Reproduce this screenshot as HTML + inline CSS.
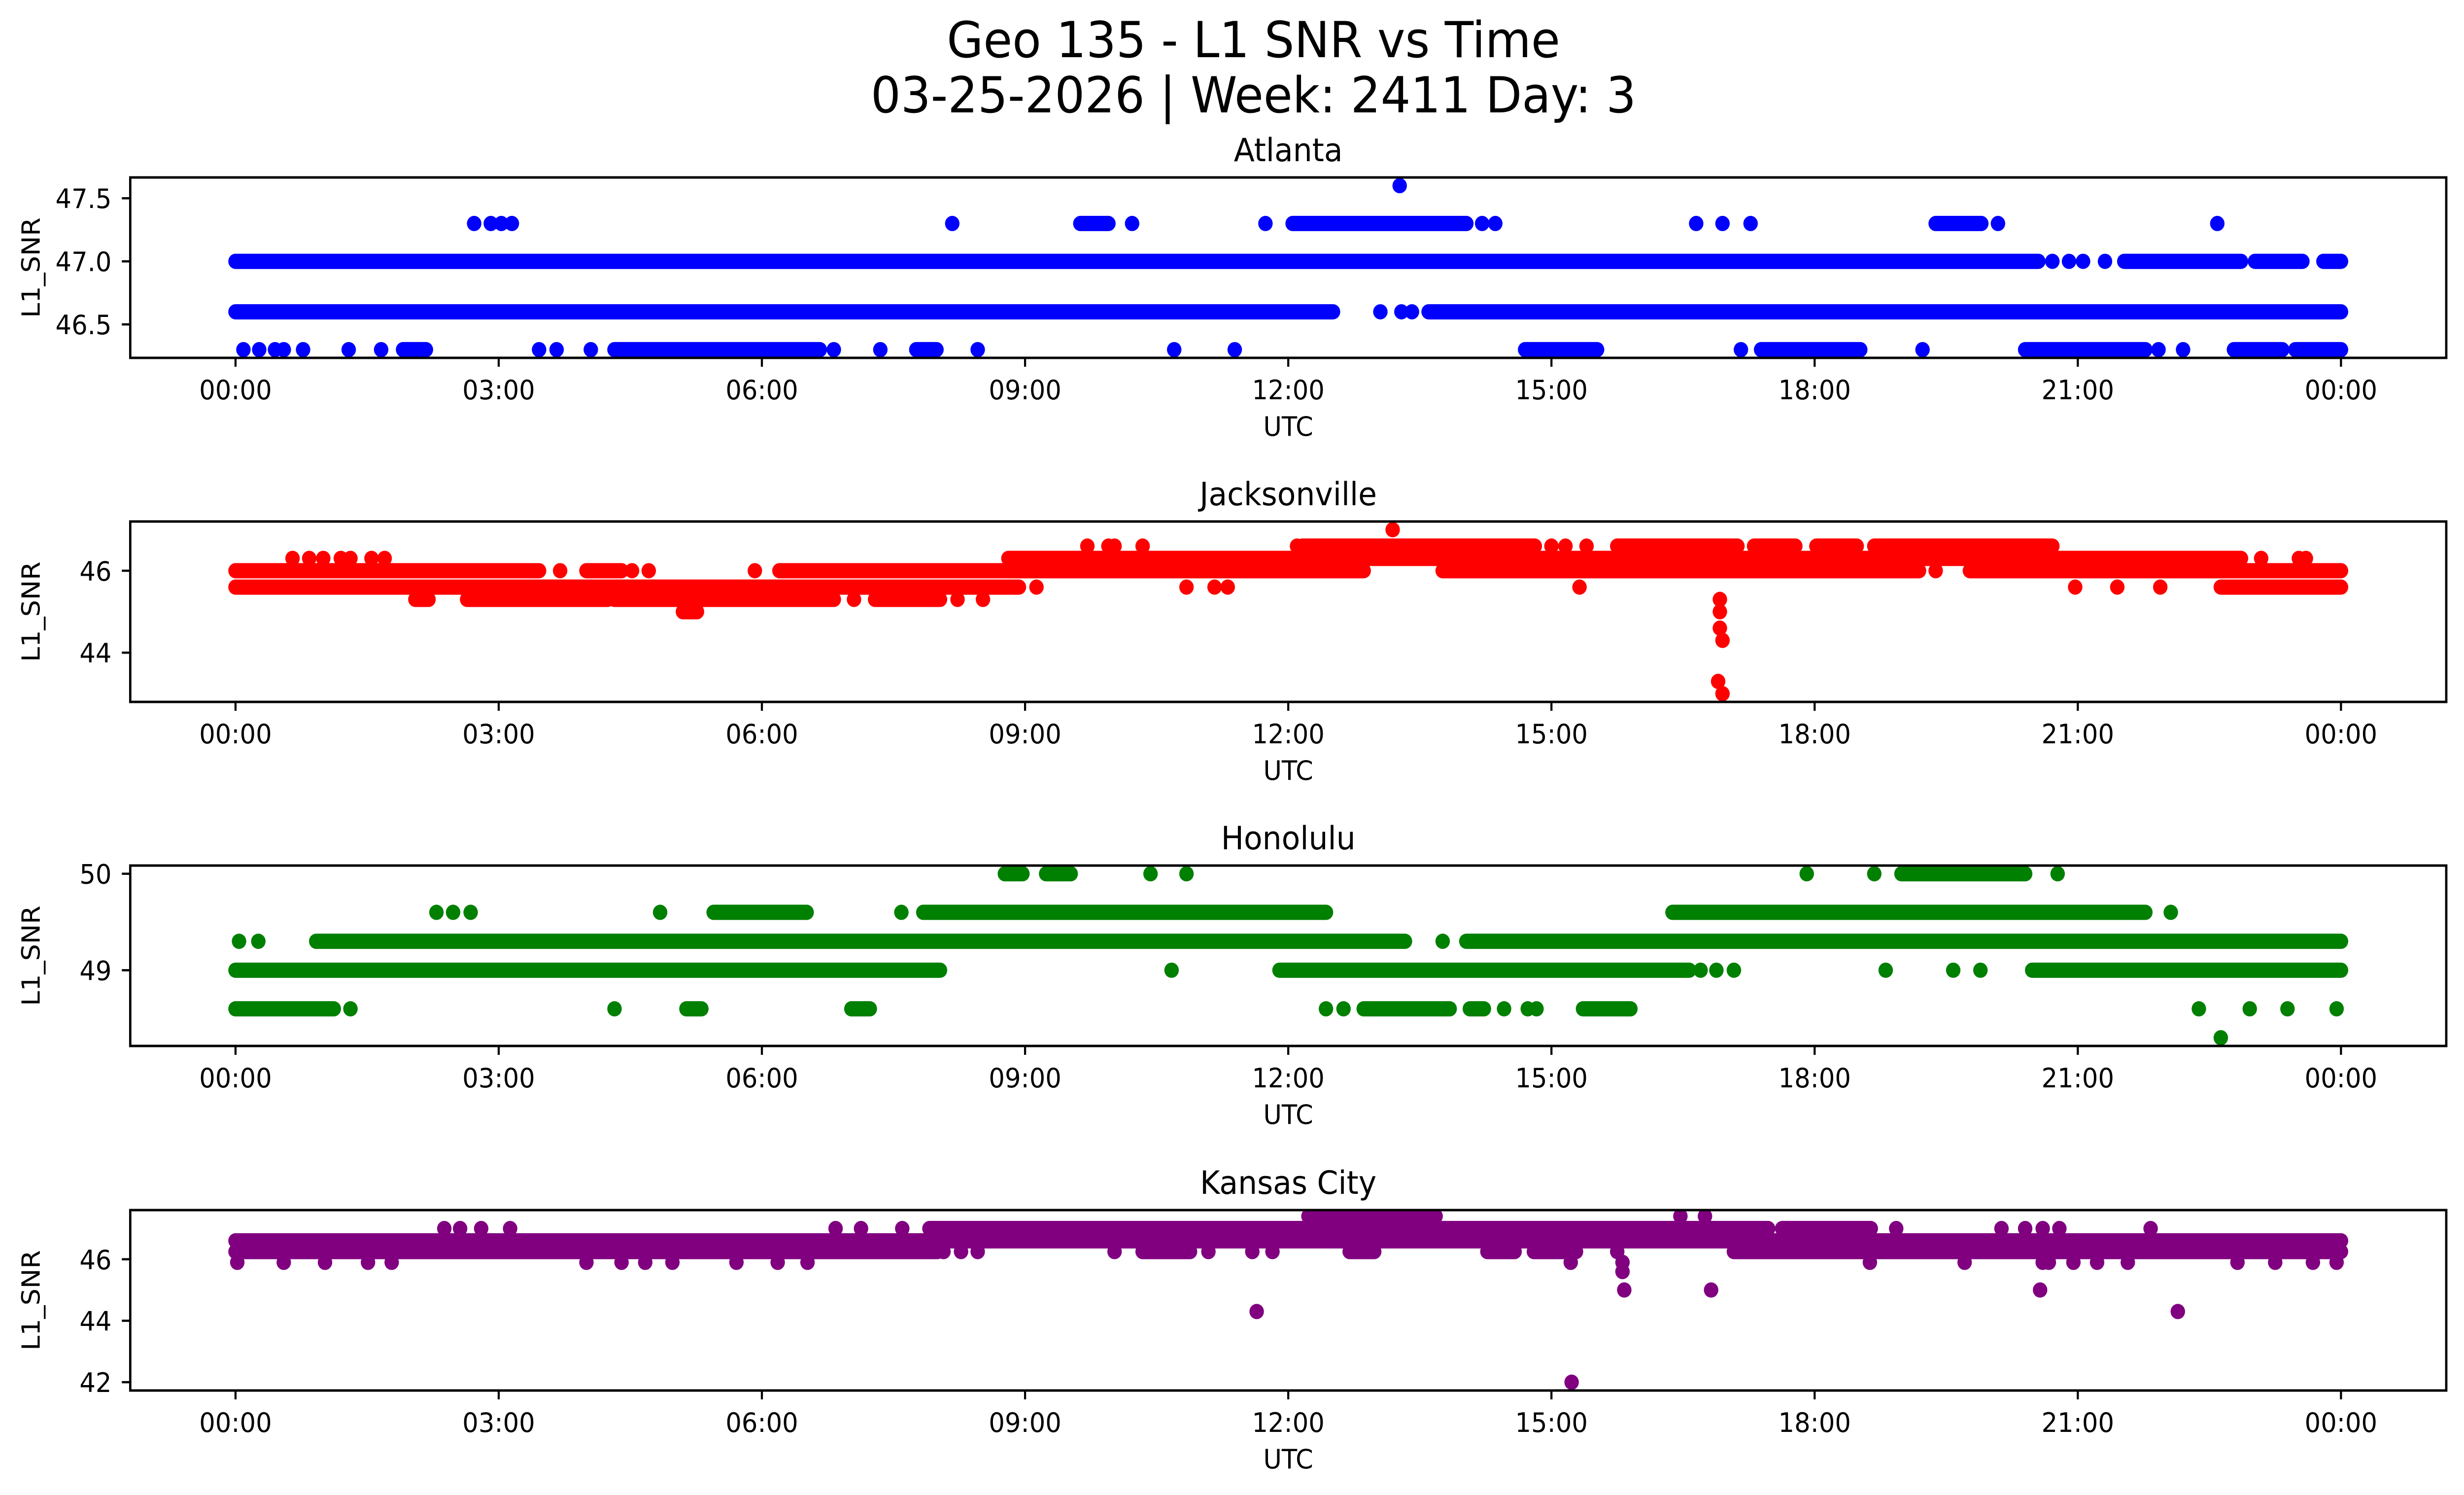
<!DOCTYPE html>
<html><head><meta charset="utf-8"><title>Geo 135 - L1 SNR vs Time</title>
<style>html,body{margin:0;padding:0;background:#fff;overflow:hidden;width:100%;height:100%;}svg{display:block;width:100vw;height:100vh;font-family:"DejaVu Sans","Liberation Sans",sans-serif;}</style>
</head><body>
<svg id="fig" viewBox="0 0 5278 3033" preserveAspectRatio="none" xmlns="http://www.w3.org/2000/svg">
<rect x="0" y="0" width="5278" height="3033" fill="#fff"/>
<text x="2685" y="116" font-size="101" text-anchor="middle">Geo 135 - L1 SNR vs Time</text>
<text x="2685" y="228" font-size="101" text-anchor="middle">03-25-2026 | Week: 2411 Day: 3</text>
</svg>
<script>
// shared x axis data
const xTickHours = [0, 3, 6, 9, 12, 15, 18, 21, 24];
const xTickLabels = ["00:00","03:00","06:00","09:00","12:00","15:00","18:00","21:00","00:00"];
const xDomain = [-1.2, 25.2];

// Atlanta
const atlTicks = [46.5, 47.0, 47.5];
const atlTickLabels = ["46.5","47.0","47.5"];
const atlYDomain = [46.235, 47.665];
const atlRuns = [[47.0,0,20.55],[47.0,21.53,22.86],[47.0,23.02,23.56],[47.0,23.8,24],[46.6,0,12.51],[46.6,13.6,24],[47.3,12.05,14.03],[47.3,9.63,9.95],[47.3,19.38,19.9],[46.3,4.32,6.66],[46.3,7.76,7.99],[46.3,1.91,2.17],[46.3,14.7,15.52],[46.3,17.39,18.52],[46.3,20.4,21.77],[46.3,22.78,23.33],[46.3,23.48,24]];
const atlPoints = [[2.72,47.3],[2.91,47.3],[3.03,47.3],[3.15,47.3],[8.17,47.3],[10.22,47.3],[11.74,47.3],[14.21,47.3],[14.36,47.3],[16.65,47.3],[16.95,47.3],[17.27,47.3],[20.09,47.3],[22.59,47.3],[13.27,47.6],[20.71,47.0],[20.9,47.0],[21.06,47.0],[21.31,47.0],[13.05,46.6],[13.29,46.6],[13.41,46.6],[0.09,46.3],[0.27,46.3],[0.45,46.3],[0.55,46.3],[0.77,46.3],[1.29,46.3],[1.66,46.3],[3.46,46.3],[3.66,46.3],[4.05,46.3],[6.82,46.3],[7.35,46.3],[8.46,46.3],[10.70,46.3],[11.39,46.3],[17.16,46.3],[19.23,46.3],[21.92,46.3],[22.2,46.3]];

// Jacksonville
const jaxTicks = [44, 46];
const jaxTickLabels = ["44","46"];
const jaxYDomain = [42.8, 47.2];
const jaxRuns = [[46.0,0,3.46],[46.0,4.0,4.4],[46.0,6.2,12.86],[46.0,13.76,19.19],[46.0,19.77,24],[45.6,0,8.93],[45.6,22.63,24],[45.3,2.05,2.2],[45.3,2.64,4.24],[45.3,4.32,6.82],[45.3,7.29,8.03],[46.3,8.81,22.86],[46.6,12.16,14.81],[46.6,15.75,17.12],[46.6,17.31,17.78],[46.6,18.02,18.48],[46.6,18.68,20.71],[45.0,5.1,5.26]];
const jaxPoints = [[0.65,46.3],[0.84,46.3],[1.0,46.3],[1.2,46.3],[1.31,46.3],[1.55,46.3],[1.7,46.3],[23.09,46.3],[23.52,46.3],[23.6,46.3],[9.71,46.6],[9.95,46.6],[10.02,46.6],[10.34,46.6],[12.1,46.6],[15.0,46.6],[15.16,46.6],[15.4,46.6],[3.7,46.0],[4.52,46.0],[4.71,46.0],[5.92,46.0],[19.38,46.0],[9.13,45.6],[10.84,45.6],[11.16,45.6],[11.31,45.6],[15.32,45.6],[20.97,45.6],[21.45,45.6],[21.94,45.6],[7.05,45.3],[8.23,45.3],[8.52,45.3],[16.92,45.3],[16.92,45.0],[16.92,44.6],[16.95,44.3],[16.9,43.3],[16.95,43.0],[13.19,47.0]];

// Honolulu
const honTicks = [49, 50];
const honTickLabels = ["49","50"];
const honYDomain = [48.215, 50.085];
const honRuns = [[49.6,5.45,6.51],[49.6,7.84,12.43],[49.6,16.38,21.77],[49.3,0.92,13.33],[49.3,14.03,24],[49.0,0,8.03],[49.0,11.9,16.57],[49.0,20.48,24],[48.6,0,1.12],[48.6,12.86,13.84],[48.6,14.07,14.23],[48.6,15.36,15.9],[48.6,5.14,5.31],[48.6,7.02,7.23],[50.0,8.77,8.97],[50.0,9.24,9.52],[50.0,18.99,20.4]];
const honPoints = [[10.43,50.0],[10.84,50.0],[17.91,50.0],[18.68,50.0],[20.77,50.0],[2.29,49.6],[2.48,49.6],[2.68,49.6],[4.84,49.6],[7.59,49.6],[22.06,49.6],[0.04,49.3],[0.26,49.3],[13.76,49.3],[10.67,49.0],[16.7,49.0],[16.88,49.0],[17.08,49.0],[18.81,49.0],[19.58,49.0],[19.89,49.0],[1.31,48.6],[4.32,48.6],[12.43,48.6],[12.63,48.6],[14.46,48.6],[14.73,48.6],[14.83,48.6],[22.38,48.6],[22.96,48.6],[23.39,48.6],[23.95,48.6],[22.63,48.3]];

// Kansas City
const kcTicks = [42, 44, 46];
const kcTickLabels = ["42","44","46"];
const kcYDomain = [41.73, 47.6];
const kcRuns = [[46.6,0,24],[46.25,0,8.0],[46.25,17.08,24],[47.0,7.91,17.47],[47.0,17.63,18.64],[47.4,12.23,13.68],[46.25,14.8,15.28],[46.25,14.27,14.58],[46.25,12.7,12.98],[46.25,10.34,10.88]];
const kcPoints = [[16.47,47.4],[16.75,47.4],[2.38,47.0],[2.56,47.0],[2.8,47.0],[3.13,47.0],[6.84,47.0],[7.13,47.0],[7.6,47.0],[18.93,47.0],[20.13,47.0],[20.4,47.0],[20.6,47.0],[20.79,47.0],[21.83,47.0],[8.07,46.25],[8.27,46.25],[8.46,46.25],[10.02,46.25],[11.09,46.25],[11.59,46.25],[11.82,46.25],[15.75,46.25],[0.02,45.9],[0.55,45.9],[1.02,45.9],[1.51,45.9],[1.78,45.9],[4.0,45.9],[4.4,45.9],[4.67,45.9],[4.98,45.9],[5.71,45.9],[6.18,45.9],[6.52,45.9],[15.22,45.9],[15.81,45.9],[18.63,45.9],[19.71,45.9],[20.6,45.9],[20.67,45.9],[20.95,45.9],[21.22,45.9],[21.57,45.9],[22.82,45.9],[23.25,45.9],[23.68,45.9],[23.95,45.9],[15.81,45.6],[15.83,45.0],[16.82,45.0],[20.57,45.0],[11.64,44.3],[22.14,44.3],[15.23,42.0]];

const NS = "http://www.w3.org/2000/svg";
const svg = document.getElementById("fig");
const AX_L = 279, AX_R = 5240, AX_H = 366, R = 15.5;
function mk(tag, attrs, parent){ const e = document.createElementNS(NS, tag); for (const k in attrs) e.setAttribute(k, attrs[k]); (parent||svg).appendChild(e); return e; }
function xScale(h){ return AX_L + (h - xDomain[0]) / (xDomain[1] - xDomain[0]) * (AX_R - AX_L); }

const panels = [
  {key:"atlanta", title:"Atlanta", top:360, color:"#0000ff", ticks:atlTicks, labels:atlTickLabels, dom:atlYDomain, runs:atlRuns, pts:atlPoints},
  {key:"jacksonville", title:"Jacksonville", top:1058, color:"#ff0000", ticks:jaxTicks, labels:jaxTickLabels, dom:jaxYDomain, runs:jaxRuns, pts:jaxPoints},
  {key:"honolulu", title:"Honolulu", top:1756, color:"#008000", ticks:honTicks, labels:honTickLabels, dom:honYDomain, runs:honRuns, pts:honPoints},
  {key:"kansas-city", title:"Kansas City", top:2455, color:"#800080", ticks:kcTicks, labels:kcTickLabels, dom:kcYDomain, runs:kcRuns, pts:kcPoints}
];

panels.forEach(p => {
  const bottom = p.top + AX_H;
  const yScale = v => bottom - (v - p.dom[0]) / (p.dom[1] - p.dom[0]) * AX_H;
  const g = mk("g", {});
  
  
  const clipId = "clip-" + p.key;
  const cp = mk("clipPath", {id: clipId}, g);
  mk("rect", {x: AX_L, y: p.top, width: AX_R - AX_L, height: AX_H}, cp);
  const marks = mk("g", {"clip-path": "url(#" + clipId + ")"}, g);
  
  
  p.runs.forEach(r => {
    const ln = mk("line", {x1: xScale(r[1]), x2: xScale(r[2]), y1: yScale(r[0]), y2: yScale(r[0]), stroke: p.color, "stroke-width": 2*R, "stroke-linecap": "round"}, marks);
    
    
  });
  p.pts.forEach(pt => {
    const c = mk("circle", {cx: xScale(pt[0]), cy: yScale(pt[1]), r: R, fill: p.color}, marks);
    
    
  });
  const frame = mk("rect", {x: AX_L, y: p.top, width: AX_R - AX_L, height: AX_H, fill: "none", stroke: "#000", "stroke-width": 5}, g);
  
  
  const t = mk("text", {x: (AX_L + AX_R)/2, y: p.top - 33, "font-size": 65, "text-anchor": "middle"}, g);
  t.textContent = p.title;
  
  
  xTickHours.forEach((h, i) => {
    const x = xScale(h);
    const tk = mk("line", {x1: x, x2: x, y1: bottom, y2: bottom + 18, stroke: "#000", "stroke-width": 4.5}, g);
    
    
    const tl = mk("text", {x: x, y: bottom + 84, "font-size": 54, "text-anchor": "middle"}, g);
    tl.textContent = xTickLabels[i];
    
    
  });
  p.ticks.forEach((v, i) => {
    const y = yScale(v);
    const tk = mk("line", {x1: AX_L - 18, x2: AX_L, y1: y, y2: y, stroke: "#000", "stroke-width": 4.5}, g);
    
    
    const tl = mk("text", {x: AX_L - 40, y: y + 20, "font-size": 54, "text-anchor": "end"}, g);
    tl.textContent = p.labels[i];
    
    
  });
  const xl = mk("text", {x: (AX_L + AX_R)/2, y: bottom + 158, "font-size": 54, "text-anchor": "middle"}, g);
  xl.textContent = "UTC";
  
  
  const cy = p.top + AX_H/2;
  const yl = mk("text", {x: 0, y: 0, "font-size": 54, "text-anchor": "middle", transform: "translate(85," + cy + ") rotate(-90)"}, g);
  yl.textContent = "L1_SNR";
  
  
});
</script>
</body></html>
